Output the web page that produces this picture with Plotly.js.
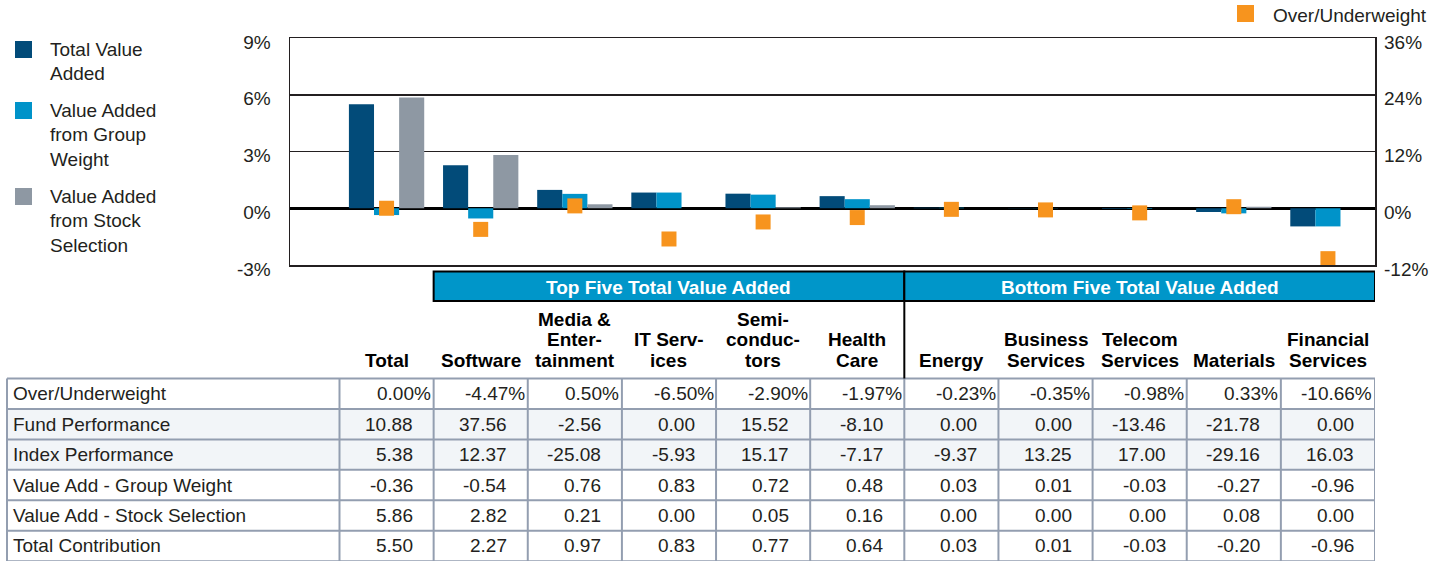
<!DOCTYPE html>
<html><head><meta charset="utf-8">
<script src="https://cdn.plot.ly/plotly-3.0.1.min.js"></script>
<style>html,body{margin:0;padding:0;background:#fff;}#chart{width:1455px;height:561px;}</style>
</head><body><div id="chart"></div>
<script>
// ---------- DATA ----------
const categories = ['Total','Software','Media & Entertainment','IT Services','Semiconductors','Health Care','Energy','Business Services','Telecom Services','Materials','Financial Services'];
const headerLines = [['Total'],['Software'],['Media &','Enter-','tainment'],['IT Serv-','ices'],['Semi-','conduc-','tors'],['Health','Care'],['Energy'],['Business','Services'],['Telecom','Services'],['Materials'],['Financial','Services']];
const groupLabels = ['Top Five Total Value Added','Bottom Five Total Value Added'];
const overUnder    = [0.00,-4.47,0.50,-6.50,-2.90,-1.97,-0.23,-0.35,-0.98,0.33,-10.66];
const fundPerf     = [10.88,37.56,-2.56,0.00,15.52,-8.10,0.00,0.00,-13.46,-21.78,0.00];
const indexPerf    = [5.38,12.37,-25.08,-5.93,15.17,-7.17,-9.37,13.25,17.00,-29.16,16.03];
const groupWeight  = [-0.36,-0.54,0.76,0.83,0.72,0.48,0.03,0.01,-0.03,-0.27,-0.96];
const stockSel     = [5.86,2.82,0.21,0.00,0.05,0.16,0.00,0.00,0.00,0.08,0.00];
const totalContrib = [5.50,2.27,0.97,0.83,0.77,0.64,0.03,0.01,-0.03,-0.20,-0.96];
const rowLabels = ['Over/Underweight','Fund Performance','Index Performance','Value Add - Group Weight','Value Add - Stock Selection','Total Contribution'];
const legendLines = [['Total Value','Added'],['Value Added','from Group','Weight'],['Value Added','from Stock','Selection']];
const overLegend = 'Over/Underweight';
const leftTickVals = [-3,0,3,6,9];
const leftTickText = ['-3%','0%','3%','6%','9%'];
const rightTickVals = [-12,0,12,24,36];
const rightTickText = ['-12%','0%','12%','24%','36%'];

// ---------- LAYOUT CONSTANTS ----------
const PL=290, PR=1375, PT=38, PB=265;
const FONT='"Liberation Sans", Arial, Helvetica, sans-serif';
const TXT='#231f20';
const C_DARK='#024b79', C_LIGHT='#0093c9', C_GREY='#8e98a3', C_ORANGE='#f7941e';
const colLeftPx=339.5, colW=(PR-colLeftPx)/11;
const xRange=[-0.5-(colLeftPx-PL)/colW, 10.5];
const px2x = px => (px-PL)/(PR-PL);
const py2y = py => (PB-py)/(PB-PT);
const rowTop=378.5, rowH=30.45, tableLeft=7;
const lineCol='#939eb0';

const traces=[
  {type:'bar',name:'Total Value Added',x:categories,y:totalContrib,marker:{color:C_DARK},showlegend:false},
  {type:'bar',name:'Value Added from Group Weight',x:categories,y:groupWeight,marker:{color:C_LIGHT},showlegend:false},
  {type:'bar',name:'Value Added from Stock Selection',x:categories,y:stockSel,marker:{color:C_GREY},showlegend:false},
  {type:'scatter',mode:'markers',name:overLegend,x:categories,y:overUnder,yaxis:'y2',
   marker:{symbol:'square',size:15,color:C_ORANGE},showlegend:false}
];

const shapes=[], ann=[];
// row fills
shapes.push({type:'rect',xref:'paper',yref:'paper',x0:px2x(tableLeft),x1:px2x(PR),y0:py2y(rowTop+rowH),y1:py2y(rowTop+3*rowH),fillcolor:'#f2f5f8',line:{width:0},layer:'below'});
// horizontal borders
for(let k=0;k<=6;k++){
  const y=py2y(rowTop+k*rowH);
  shapes.push({type:'line',xref:'paper',yref:'paper',x0:px2x(tableLeft),x1:px2x(PR),y0:y,y1:y,line:{color:lineCol,width:2}});
}
// vertical borders
shapes.push({type:'line',xref:'paper',yref:'paper',x0:px2x(tableLeft),x1:px2x(tableLeft),y0:py2y(rowTop),y1:py2y(565),line:{color:lineCol,width:2}});
for(let i=0;i<=categories.length;i++){
  shapes.push({type:'line',xref:'x',yref:'paper',x0:i-0.5,x1:i-0.5,y0:py2y(rowTop),y1:py2y(565),line:{color:lineCol,width:2}});
}
// group bands
[[0.5,5.5],[5.5,10.5]].forEach((s,g)=>{
  shapes.push({type:'rect',xref:'x',yref:'paper',x0:s[0],x1:s[1],y0:py2y(271.5),y1:py2y(301),fillcolor:'#0096c9',line:{color:'#000',width:2}});
  ann.push({xref:'x',yref:'paper',x:(s[0]+s[1])/2,y:py2y(287),text:groupLabels[g],showarrow:false,xanchor:'center',yanchor:'middle',
    font:{family:FONT,size:19,color:'#fff',weight:700},borderpad:0});
});
shapes.push({type:'line',xref:'x',yref:'paper',x0:5.5,x1:5.5,y0:py2y(301),y1:py2y(rowTop),line:{color:'#000',width:2}});

// column headers
headerLines.forEach((lines,i)=>{
  const n=lines.length;
  lines.forEach((t,j)=>{
    ann.push({xref:'x',yref:'paper',x:i,y:py2y(360-20.5*(n-1-j)),text:t,showarrow:false,xanchor:'center',yanchor:'middle',
      font:{family:FONT,size:19,color:'#000',weight:700},borderpad:0,borderwidth:0});
  });
});

// table body
const rows=[overUnder,fundPerf,indexPerf,groupWeight,stockSel,totalContrib];
rows.forEach((vals,r)=>{
  const yc=py2y(rowTop+rowH*(r+0.5));
  ann.push({xref:'paper',yref:'paper',x:px2x(13),y:yc,text:rowLabels[r],showarrow:false,xanchor:'left',yanchor:'middle',
    font:{family:FONT,size:19,color:TXT},borderpad:0,borderwidth:0});
  vals.forEach((v,i)=>{
    const pct = r===0;
    ann.push({xref:'x',yref:'paper',x:i,xshift: pct ? colW/2-2.5 : colW/2-21,y:yc,
      text: v.toFixed(2)+(pct?'%':''),showarrow:false,xanchor:'right',yanchor:'middle',
      font:{family:FONT,size:19,color:TXT},borderpad:0,borderwidth:0});
  });
});

// legend (left)
const legColors=[C_DARK,C_LIGHT,C_GREY];
const legSq=[41,102,188], legTxt=[49,110,196];
legendLines.forEach((lines,k)=>{
  shapes.push({type:'rect',xref:'paper',yref:'paper',x0:px2x(15),x1:px2x(32),y0:py2y(legSq[k]),y1:py2y(legSq[k]+17),fillcolor:legColors[k],line:{width:0}});
  lines.forEach((t,j)=>{
    ann.push({xref:'paper',yref:'paper',x:px2x(50),y:py2y(legTxt[k]+24.5*j),text:t,showarrow:false,xanchor:'left',yanchor:'middle',
      font:{family:FONT,size:19,color:TXT},borderpad:0,borderwidth:0});
  });
});
// legend (top right)
shapes.push({type:'rect',xref:'paper',yref:'paper',x0:px2x(1237),x1:px2x(1254),y0:py2y(5),y1:py2y(22),fillcolor:C_ORANGE,line:{width:0}});
ann.push({xref:'paper',yref:'paper',x:px2x(1273),y:py2y(16),text:overLegend,showarrow:false,xanchor:'left',yanchor:'middle',
  font:{family:FONT,size:19,color:TXT},borderpad:0,borderwidth:0});

const layout={
  width:1455,height:561,
  margin:{l:PL,r:1455-PR,t:PT,b:561-PB,pad:0},
  paper_bgcolor:'#fff',plot_bgcolor:'#fff',
  font:{family:FONT,size:19,color:TXT},
  barmode:'group',bargap:0.2,bargroupgap:0,
  showlegend:false,
  xaxis:{type:'category',categoryorder:'array',categoryarray:categories,range:xRange,showticklabels:false,ticks:'',
    showgrid:false,zeroline:false,showline:true,mirror:true,linecolor:'#231f20',linewidth:1.5,fixedrange:true},
  yaxis:{range:[-3,9],tickmode:'array',tickvals:leftTickVals,ticktext:leftTickText,ticks:'',showgrid:true,gridcolor:'#231f20',gridwidth:1.5,
    zeroline:true,zerolinecolor:'#000',zerolinewidth:2.5,showline:true,mirror:true,linecolor:'#231f20',linewidth:1.5,
    tickfont:{family:FONT,size:19,color:TXT},ticklabelstandoff:14,ticklabelshift:4,fixedrange:true},
  yaxis2:{overlaying:'y',side:'right',range:[-12,36],tickmode:'array',tickvals:rightTickVals,ticktext:rightTickText,ticks:'',showgrid:false,zeroline:false,
    showline:false,tickfont:{family:FONT,size:19,color:TXT},ticklabelstandoff:8,ticklabelshift:4,fixedrange:true},
  shapes:shapes,annotations:ann
};
Plotly.newPlot('chart',traces,layout,{displayModeBar:false,staticPlot:true});
</script></body></html>
